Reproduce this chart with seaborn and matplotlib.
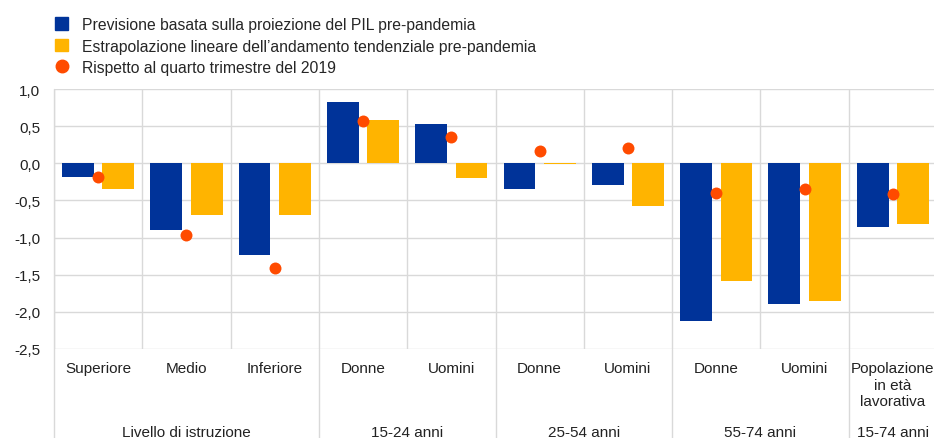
import matplotlib
matplotlib.use("Agg")
import matplotlib.pyplot as plt
from matplotlib.lines import Line2D
from matplotlib.patches import Patch
from matplotlib.ticker import FuncFormatter
import numpy as np
import pandas as pd
import seaborn as sns

# dati
gruppi = ["Livello di istruzione", "15-24 anni", "25-54 anni", "55-74 anni", "15-74 anni"]
n_per_gruppo = [3, 2, 2, 2, 1]
sottocategorie = ["Superiore", "Medio", "Inferiore", "Donne", "Uomini", "Donne", "Uomini",
                  "Donne", "Uomini", "Popolazione\nin età\nlavorativa"]
previsione_pil = [-0.19, -0.90, -1.24, 0.82, 0.53, -0.35, -0.29, -2.12, -1.89, -0.86]
estrapolazione = [-0.35, -0.70, -0.70, 0.58, -0.20, -0.01, -0.58, -1.58, -1.85, -0.82]
rispetto_2019 = [-0.18, -0.97, -1.41, 0.57, 0.36, 0.17, 0.20, -0.40, -0.34, -0.41]

serie = ["Previsione basata sulla proiezione del PIL pre-pandemia",
         "Estrapolazione lineare dell\u2019andamento tendenziale pre-pandemia"]
punto_label = "Rispetto al quarto trimestre del 2019"

BLU = "#003399"
GIALLO = "#FFB400"
ARANCIO = "#FF4B00"
GRIGIO = "#d9d9d9"

sns.set_style("white")
plt.rcParams["font.family"] = ["Liberation Sans", "DejaVu Sans"]
plt.rcParams["font.size"] = 11

# chiavi univoche per le categorie (i nomi si ripetono)
gruppo_di = [g for g, n in zip(gruppi, n_per_gruppo) for _ in range(n)]
chiavi = [f"{g}|{s}" for g, s in zip(gruppo_di, sottocategorie)]

df = pd.DataFrame({
    "chiave": chiavi * 2,
    "valore": previsione_pil + estrapolazione,
    "serie": [serie[0]] * len(chiavi) + [serie[1]] * len(chiavi),
})

fig = plt.figure(figsize=(9.34, 4.39), dpi=100)
ax = fig.add_axes([54 / 934, 1 - 350 / 439, 883 / 934, 260 / 439])

sns.barplot(data=df, x="chiave", y="valore", hue="serie", order=chiavi,
            palette=[BLU, GIALLO], width=0.916, gap=0.214, saturation=1,
            linewidth=0, legend=False, ax=ax)
sns.stripplot(x=chiavi, y=rispetto_2019, order=chiavi, jitter=False, color=ARANCIO,
              size=8.6, linewidth=0, zorder=4, ax=ax)

n = len(chiavi)
ax.set_xlim(-0.5, n - 0.5)
ax.set_ylim(-2.5, 1.0)
ax.set_yticks(np.arange(-2.5, 1.01, 0.5))
ax.yaxis.set_major_formatter(FuncFormatter(lambda v, p: f"{v:.1f}".replace(".", ",")))
ax.set_xticks(range(n))
ax.set_xticklabels(sottocategorie)
ax.set_xticks(np.arange(-0.5, n), minor=True)
ax.tick_params(axis="both", which="both", length=0)
ax.tick_params(axis="y", pad=10, labelsize=11, colors="#222222")
ax.tick_params(axis="x", pad=9, labelsize=11, colors="#222222")
ax.set_xlabel("")
ax.set_ylabel("")

ax.set_axisbelow(True)
ax.grid(axis="y", which="major", color=GRIGIO, linewidth=1)
ax.grid(axis="x", which="minor", color=GRIGIO, linewidth=1)
ax.grid(axis="x", which="major", visible=False)
for s in ax.spines.values():
    s.set_visible(False)

# linee di separazione sotto l'asse e nomi dei gruppi
trans = ax.get_xaxis_transform()
ax.plot([-0.5, -0.5], [1, -0.36], transform=trans, color=GRIGIO, lw=1, clip_on=False)
confini = np.cumsum(n_per_gruppo)[:-1] - 0.5
for c in confini:
    ax.plot([c, c], [0, -0.36], transform=trans, color=GRIGIO, lw=1, clip_on=False)
inizio = 0
for g, k in zip(gruppi, n_per_gruppo):
    centro = inizio + (k - 1) / 2
    ax.text(centro, -0.32, g, transform=trans, ha="center", va="center",
            fontsize=11, color="#222222")
    inizio += k

handles = [Patch(color=BLU), Patch(color=GIALLO),
           Line2D([], [], marker="o", linestyle="none", color=ARANCIO, markersize=9)]
fig.legend(handles, serie + [punto_label], loc="upper left",
           bbox_to_anchor=(55 / 934, 1 - 18 / 439), frameon=False, fontsize=11.3,
           handlelength=0.85, handleheight=0.85, handletextpad=0.9,
           labelspacing=0.42, borderpad=0, borderaxespad=0)

fig.savefig("out.png", dpi=100)
